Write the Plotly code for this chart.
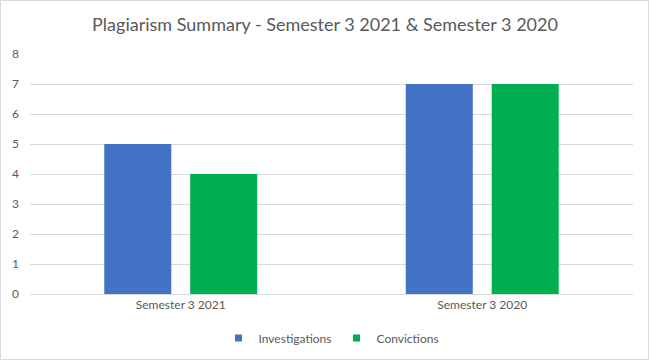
import plotly.graph_objects as go

categories = ["Semester 3 2021", "Semester 3 2020"]
investigations = [5, 7]
convictions = [4, 7]
y_ticks = [0, 1, 2, 3, 4, 5, 6, 7, 8]
series_names = ["Investigations", "Convictions"]
series_colors = ["#4472C4", "#00B050"]

W, H = 650, 361
ml, mr, mt, mb = 30, 17, 54, 67
pw, ph = W - ml - mr, H - mt - mb

fig = go.Figure()
for name, vals, col in zip(series_names, [investigations, convictions], series_colors):
    fig.add_trace(go.Bar(name=name, x=categories, y=vals, showlegend=False,
                         marker=dict(color=col, line=dict(width=0))))
for name, col in zip(series_names, series_colors):
    fig.add_trace(go.Scatter(name=name, x=[None], y=[None], mode="markers",
                             marker=dict(symbol="square", size=7, color=col),
                             showlegend=True))

font_family = "Lato, 'Open Sans', sans-serif"
fig.update_layout(
    width=W, height=H,
    margin=dict(l=ml, r=mr, t=mt, b=mb, autoexpand=False),
    paper_bgcolor="white", plot_bgcolor="white",
    barmode="group", bargap=0.43, bargroupgap=0.22,
    font=dict(family=font_family, color="#595959", size=12),
    title=dict(text="Plagiarism Summary - Semester 3 2021 & Semester 3 2020",
               x=0.5, xanchor="center", y=1 - 25 / H, yanchor="middle",
               font=dict(size=18, color="#595959", family=font_family)),
    xaxis=dict(showgrid=False, showline=True, linecolor="#D9D9D9", linewidth=1,
               ticks="", tickfont=dict(size=12, color="#595959"), fixedrange=True,
               automargin=False),
    yaxis=dict(range=[0, 8], tickvals=y_ticks, showgrid=True, gridcolor="#D9D9D9",
               gridwidth=1, zeroline=False, showline=False, ticks="",
               tickfont=dict(size=12, color="#595959"), ticklabelstandoff=10,
               automargin=False, fixedrange=True),
    legend=dict(orientation="h", x=0.5, xanchor="center", yref="container",
                y=1 - 338 / H, yanchor="middle",
                font=dict(size=12, color="#595959"), itemwidth=30,
                traceorder="normal"),
    shapes=[dict(type="rect", xref="paper", yref="paper",
                 x0=-(ml - 0.5) / pw, x1=1 + (mr - 1.5) / pw,
                 y0=-(mb - 1.5) / ph, y1=1 + (mt - 0.5) / ph,
                 line=dict(color="#D9D9D9", width=1), layer="below")],
)
fig.write_html("out.html", config={"displayModeBar": False},
               post_script="document.body.style.margin='0';document.body.style.padding='0';")
